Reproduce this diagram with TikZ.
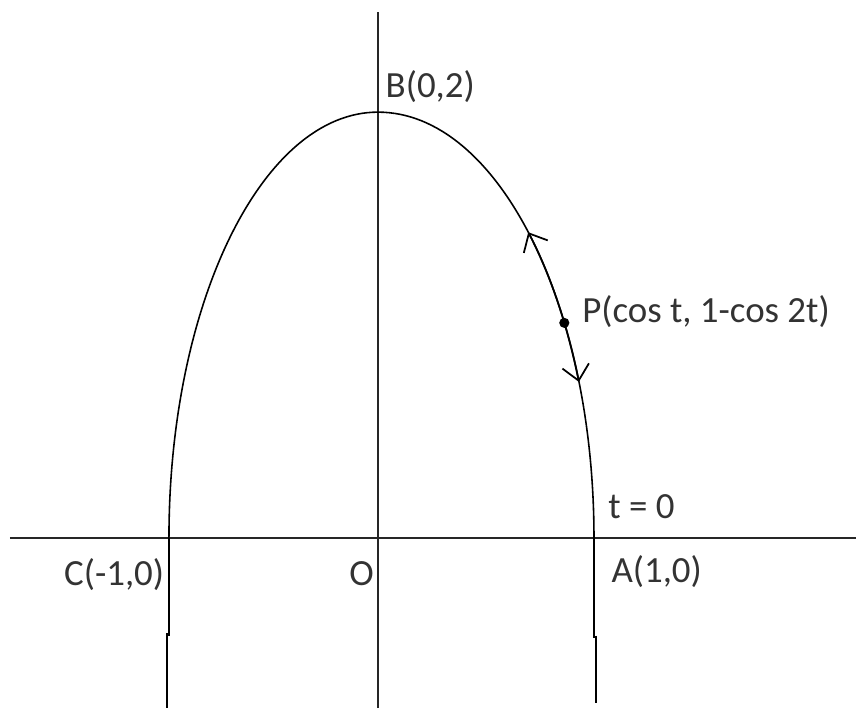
\documentclass[tikz,border=0pt]{standalone}
\usepackage{fontspec}
\setmainfont{Carlito}
\usetikzlibrary{arrows.meta}
\definecolor{LabelGray}{rgb}{0.2, 0.2, 0.2}
\def\u{4.24cm}
\def\radL{0.986}
\def\radR{1.019}
\def\radY{2.009}

\begin{document}
\begin{tikzpicture}[x=\u, y=\u,
    eje/.style={black!85, line width=1.1pt},
    curva/.style={black, line width=0.9pt},
    flecha/.style={black, line width=1pt, -{Straight Barb[length=3mm, width=5.4mm]}},
    etiqueta/.style={font=\fontsize{21}{25}\selectfont, text=LabelGray, inner sep=0pt, anchor=base west}]

\useasboundingbox (-1.783,-0.802) rectangle (2.255,2.538);

% puntos
\coordinate (O) at (0,0);
\coordinate (A) at (\radR,0);
\coordinate (B) at (0,\radY);
\coordinate (C) at (-\radL,0);
\coordinate (P) at (0.879,1.015);

% ejes
\coordinate (xl) at (-1.736,0);
\coordinate (xr) at (2.255,0);
\coordinate (yt) at (0,2.481);
\coordinate (yb) at (0,-0.802);
\draw[eje] (xl) -- (xr);
\draw[eje] (yb) -- (yt);

% curva
\draw[curva] (C) arc[start angle=180, end angle=90, x radius=\radL, y radius=\radY]
    arc[start angle=90, end angle=0, x radius=\radR, y radius=\radY];

% tramos bajo el eje
\coordinate (Cb1) at (-\radL,-0.460);
\coordinate (Cb2) at (-0.995,-0.450);
\coordinate (Cb3) at (-0.995,-0.802);
\coordinate (Ab1) at (\radR,-0.470);
\coordinate (Ab2) at (1.028,-0.460);
\coordinate (Ab3) at (1.028,-0.778);
\draw[curva] (C) -- (Cb1);
\draw[curva] (Cb2) -- (Cb3);
\draw[curva] (A) -- (Ab1);
\draw[curva] (Ab2) -- (Ab3);

% sentido del movimiento
\draw[flecha] (P) arc[start angle=30.35, end angle=45.9, x radius=\radR, y radius=\radY];
\draw[flecha] (P) arc[start angle=30.35, end angle=21.5, x radius=\radR, y radius=\radY];
\fill (P) circle (0.024);

% etiquetas
\node[etiqueta] (lB) at (0.035,2.080) {B(0,2)};
\node[etiqueta] (lP) at (0.962,1.019) {P(cos t, 1-cos 2t)};
\node[etiqueta] (lt) at (1.085,0.094) {t = 0};
\node[etiqueta] (lA) at (1.100,-0.212) {A(1,0)};
\node[etiqueta] (lC) at (-1.482,-0.222) {C(-1,0)};
\node[etiqueta] (lO) at (-0.136,-0.222) {O};

\end{tikzpicture}
\end{document}
